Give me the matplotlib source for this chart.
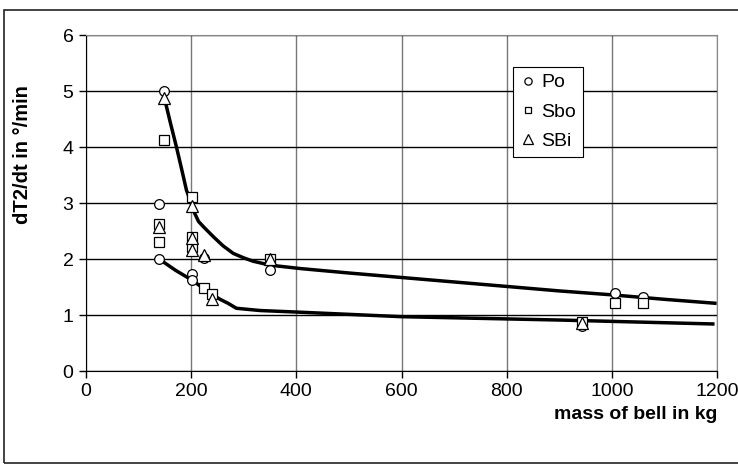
import matplotlib
matplotlib.use("Agg")
import matplotlib.pyplot as plt
from matplotlib.patches import Rectangle

plt.rcParams["font.family"] = ["Liberation Sans", "DejaVu Sans"]

# measured points, mass in kg vs dT2/dt in deg/min
po_x = [149, 139, 139, 201, 202, 225, 349, 1006, 1060, 943]
po_y = [5.0, 2.98, 2.0, 1.73, 1.62, 2.02, 1.80, 1.40, 1.32, 0.80]
sbo_x = [149, 139, 139, 202, 202, 202, 224, 240, 349, 1006, 1060, 943]
sbo_y = [4.12, 2.31, 2.62, 3.11, 2.40, 2.22, 1.49, 1.38, 2.0, 1.21, 1.21, 0.88]
sbi_x = [149, 139, 202, 202, 202, 225, 240, 349, 943]
sbi_y = [4.88, 2.58, 2.95, 2.37, 2.16, 2.07, 1.29, 2.0, 0.86]

# hand drawn trend curves
upper_x = [149, 160, 172, 182, 191, 200, 207, 214, 225, 242, 260, 280, 300, 318, 350,
           407, 500, 600, 700, 800, 900, 1000, 1100, 1196]
upper_y = [4.88, 4.45, 4.0, 3.6, 3.23, 3.0, 2.81, 2.67, 2.56, 2.40, 2.24, 2.10, 2.02, 1.96, 1.89,
           1.83, 1.75, 1.67, 1.59, 1.51, 1.43, 1.36, 1.28, 1.21]
lower_x = [139, 170, 202, 230, 255, 270, 286, 331, 407, 600, 800, 901, 1192]
lower_y = [2.0, 1.80, 1.62, 1.43, 1.28, 1.21, 1.12, 1.08, 1.05, 0.97, 0.93, 0.91, 0.84]

xticks = [0, 200, 400, 600, 800, 1000, 1200]
yticks = [0, 1, 2, 3, 4, 5, 6]

fig = plt.figure(figsize=(7.38, 4.68), dpi=100)
ax = fig.add_axes([86/738, 97/468, 631/738, 336/468])

# outer frame of the chart
fig.patches.append(Rectangle((4/738, 5/468), 740/738, 453/468, transform=fig.transFigure,
                             fill=False, edgecolor="#222222", lw=1.2))

ax.plot(upper_x, upper_y, color="black", lw=2.5, zorder=3)
ax.plot(lower_x, lower_y, color="black", lw=2.5, zorder=3)

mk = dict(linestyle="none", markerfacecolor="white", markeredgecolor="black", markeredgewidth=0.9, zorder=4)
ax.plot(po_x, po_y, marker="o", markersize=7, label="Po", **mk)
ax.plot(sbo_x, sbo_y, marker="s", markersize=6.5, label="Sbo", **mk)
ax.plot(sbi_x, sbi_y, marker="^", markersize=9, label="SBi", **mk)

ax.set_xlim(0, 1200)
ax.set_ylim(0, 6)
ax.set_xticks(xticks)
ax.set_yticks(yticks)
ax.tick_params(axis="both", direction="out", length=5, width=1, labelsize=14, colors="black")
ax.tick_params(axis="x", pad=4)
ax.tick_params(axis="y", pad=4)

ax.grid(axis="y", color="black", lw=1)
ax.grid(axis="x", color="#777777", lw=1)
ax.set_axisbelow(True)
for s in ["top", "right"]:
    ax.spines[s].set_color("#888888")
for s in ["left", "bottom"]:
    ax.spines[s].set_color("black")

ax.set_ylabel("dT2/dt in °/min", fontsize=14.5, fontweight="bold")
ax.yaxis.set_label_coords(-0.086, 0.643)
ax.set_xlabel("mass of bell in kg", fontsize=14, fontweight="bold")
ax.xaxis.set_label_coords(1.0, -0.128)
ax.xaxis.label.set_horizontalalignment("right")
ax.xaxis.label.set_verticalalignment("center")

leg = ax.legend(loc="upper left", bbox_to_anchor=(0.677, 0.905), borderaxespad=0,
                fontsize=14, frameon=True, fancybox=False, edgecolor="black",
                framealpha=1, handlelength=0.8, handletextpad=0.3, labelspacing=0.6,
                borderpad=0.35, markerscale=0.75)
leg.get_frame().set_linewidth(0.8)

fig.savefig("out.png", dpi=100)
